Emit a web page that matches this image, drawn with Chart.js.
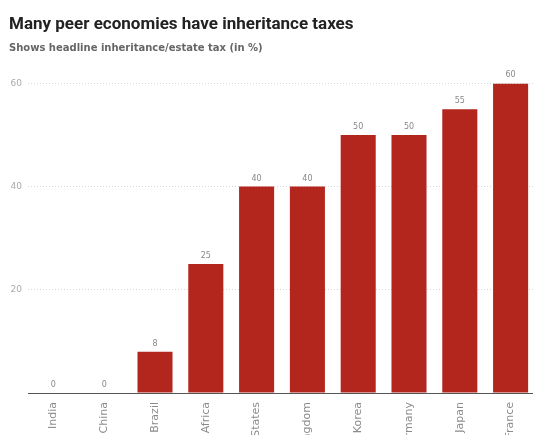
<!DOCTYPE html>
<html>
<head>
<meta charset="utf-8">
<script src="https://cdn.jsdelivr.net/npm/chart.js@4/dist/chart.umd.min.js"></script>
<style>
  html, body { margin: 0; padding: 0; background: #fff; }
  #frame { width: 533px; height: 435px; overflow: hidden; }
  #box { position: relative; width: 537px; height: 473px; }
</style>
</head>
<body>
<div id="frame"><div id="box"><canvas id="chart-area"></canvas></div></div>
<script>
// headline inheritance / estate tax, in %
var countries = ['India', 'China', 'Brazil', 'South Africa', 'United States',
                 'United Kingdom', 'South Korea', 'Germany', 'Japan', 'France'];
var taxRates = [0, 0, 8, 25, 40, 40, 50, 50, 55, 60];
var yTicks = [20, 40, 60];

var barRed = '#b3261e';

// small value labels above each bar
var valueLabels = {
    id: 'valueLabels',
    afterDatasetsDraw: function (chart) {
        var ctx = chart.ctx;
        var meta = chart.getDatasetMeta(0);
        ctx.save();
        ctx.font = '8px "DejaVu Sans"';
        ctx.fillStyle = '#888';
        ctx.textAlign = 'center';
        ctx.textBaseline = 'bottom';
        meta.data.forEach(function (bar, i) {
            ctx.fillText(String(taxRates[i]), bar.x, bar.y - 4);
        });
        ctx.restore();
    }
};

var config = {
    type: 'bar',
    data: {
        labels: countries,
        datasets: [{
            data: taxRates,
            backgroundColor: barRed,
            borderWidth: 0,
            barPercentage: 0.69,
            categoryPercentage: 1
        }]
    },
    options: {
        responsive: true,
        maintainAspectRatio: false,
        animation: false,
        layout: { padding: { left: 9, right: 1, top: 0, bottom: 0 } },
        plugins: {
            legend: { display: false },
            tooltip: { enabled: false },
            title: {
                display: true,
                text: 'Many peer economies have inheritance taxes',
                align: 'start',
                color: '#222',
                font: { family: 'Roboto', size: 17, weight: 'bold' },
                padding: { top: 15, bottom: 0 }
            },
            subtitle: {
                display: true,
                text: 'Shows headline inheritance/estate tax (in %)',
                align: 'start',
                color: '#666',
                font: { family: '"DejaVu Sans"', size: 10, weight: 'bold' },
                padding: { top: 7, bottom: 29 }
            }
        },
        scales: {
            x: {
                grid: { display: false },
                border: { display: true, color: '#555', width: 1 },
                ticks: {
                    color: '#8c8c8c',
                    font: { family: '"DejaVu Sans"', size: 11 },
                    minRotation: 90,
                    maxRotation: 90,
                    autoSkip: false,
                    padding: 1
                },
                afterFit: function (scale) { scale.height = 80; }
            },
            y: {
                min: 0,
                max: 60,
                afterBuildTicks: function (scale) {
                    scale.ticks = [0].concat(yTicks).map(function (v) { return { value: v }; });
                },
                grid: {
                    color: '#d6d6d6',
                    lineWidth: 1,
                    drawTicks: false
                },
                border: { display: false, dash: [1, 2] },
                ticks: {
                    color: '#aaa',
                    font: { family: '"DejaVu Sans"', size: 9 },
                    padding: 6,
                    callback: function (v) { return v === 0 ? '' : v; }
                },
                afterFit: function (scale) { scale.width = 19; }
            }
        }
    },
    plugins: [valueLabels]
};

var ctx = document.getElementById('chart-area').getContext('2d');
window.myBar = new Chart(ctx, config);
</script>
</body>
</html>
